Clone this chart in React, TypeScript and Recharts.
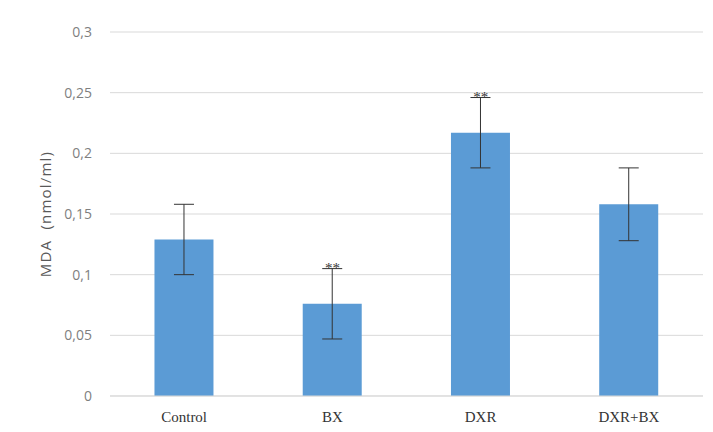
import React from "react";
import {
  ComposedChart,
  Bar,
  XAxis,
  YAxis,
  CartesianGrid,
  ErrorBar,
  Scatter,
} from "recharts";

const categories = ["Control", "BX", "DXR", "DXR+BX"];
const mdaValues = [0.129, 0.076, 0.217, 0.158];
const mdaErrors = [0.029, 0.029, 0.029, 0.03];
const significance = ["", "**", "**", ""];
const yTicks = [0, 0.05, 0.1, 0.15, 0.2, 0.25, 0.3];

const data = categories.map((name, i) => ({
  name,
  value: mdaValues[i],
  err: mdaErrors[i],
  sig: significance[i],
  sigPos: significance[i] ? mdaValues[i] + mdaErrors[i] : null,
}));

const fmt = (v: number) => String(v).replace(".", ",");

const StarShape = (props: any) => {
  const { cx, cy, payload } = props;
  if (!payload || !payload.sig || cx == null || cy == null) return null;
  return (
    <text
      x={cx}
      y={cy + 4}
      textAnchor="middle"
      fontFamily="Liberation Serif"
      fontSize={15}
      fill="#333"
    >
      {payload.sig}
    </text>
  );
};

const YLabel = (props: any) => {
  const { viewBox } = props;
  const cy = viewBox.y + viewBox.height / 2;
  const x = 45;
  return (
    <text
      x={x}
      y={cy}
      transform={`rotate(-90, ${x}, ${cy})`}
      textAnchor="middle"
      dominantBaseline="central"
      fontFamily="Open Sans"
      fontSize={15}
      letterSpacing={1.2}
      fill="#595959"
      style={{ whiteSpace: "pre" }}
    >
      {"MDA  (nmol/ml)"}
    </text>
  );
};

export default function App() {
  return (
    <div style={{ position: "absolute", left: 0, top: 0, background: "#fff" }}>
      <ComposedChart
        width={713}
        height={432}
        data={data}
        margin={{ top: 32, right: 10, bottom: 6, left: 0 }}
        barCategoryGap="30%"
      >
        <CartesianGrid vertical={false} stroke="#d9d9d9" />
        <XAxis
          dataKey="name"
          axisLine={{ stroke: "#d9d9d9" }}
          tickLine={false}
          tickMargin={9}
          height={30}
          tick={{ fontFamily: "Liberation Serif", fontSize: 15, fill: "#333" }}
        />
        <YAxis
          width={110}
          domain={[0, 0.3]}
          ticks={yTicks}
          tickFormatter={fmt}
          axisLine={false}
          tickLine={false}
          tickMargin={12}
          tick={{ fontFamily: "Open Sans", fontSize: 14, fill: "#7f7f7f" }}
          label={<YLabel />}
        />
        <Bar dataKey="value" fill="#5b9bd5" isAnimationActive={false}>
          <ErrorBar dataKey="err" width={10} stroke="#333" strokeWidth={1} />
        </Bar>
        <Scatter
          dataKey="sigPos"
          shape={<StarShape />}
          isAnimationActive={false}
        />
      </ComposedChart>
    </div>
  );
}
